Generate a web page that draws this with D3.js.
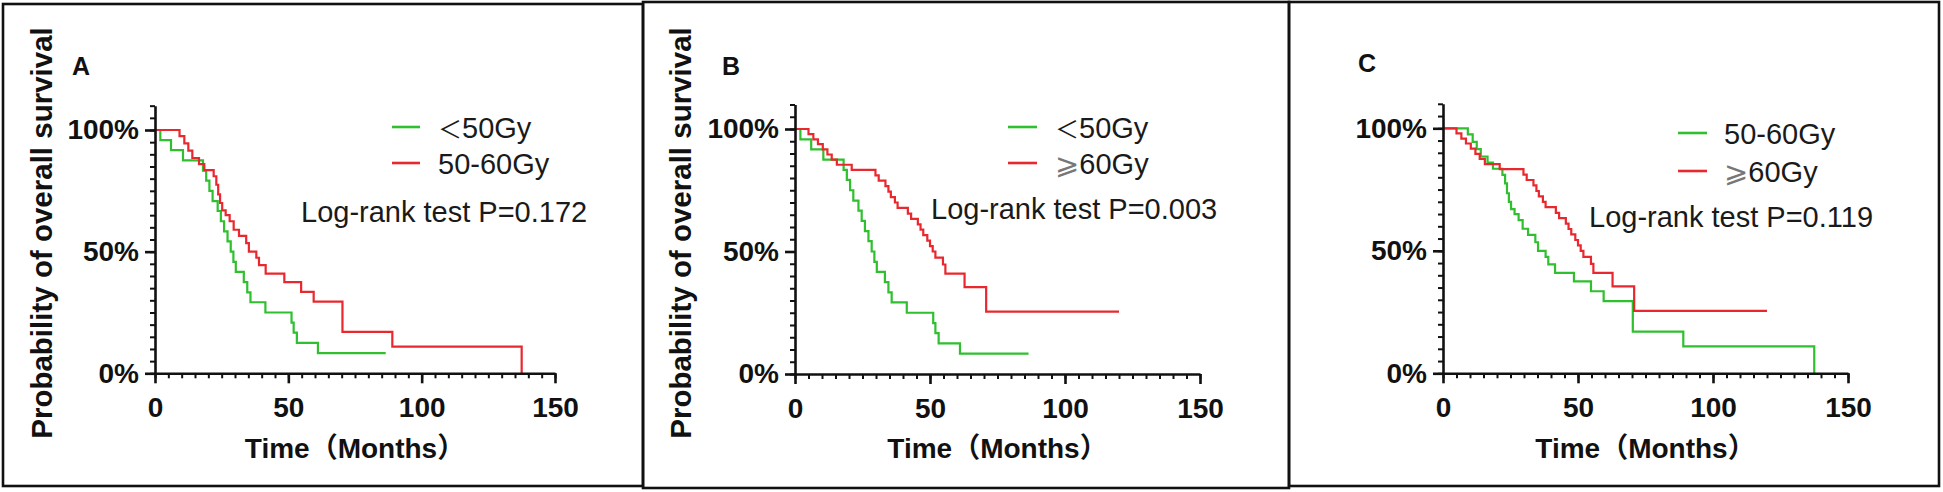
<!DOCTYPE html>
<html><head><meta charset="utf-8">
<script src="https://cdn.jsdelivr.net/npm/d3@7/dist/d3.min.js"></script>
<style>body{margin:0;background:#fff}svg{display:block}</style>
</head><body>
<script>
// ---- data (Kaplan-Meier step points: [months, survival %]) ----
const timeTicks = [0, 50, 100, 150];
const survTicks = [0, 50, 100];
const survTickLabels = ["0%", "50%", "100%"];

const lt50Gy = [[0,100],[2,95.8],[6,91.7],[10.5,87.5],[18,83.3],[19.2,79.2],[20.4,75],[21.6,70.8],
  [23.5,66.7],[24.7,62.5],[25.9,58.3],[27.2,54.2],[28.4,50],[29.4,45.8],[30.3,41.7],[33.3,37.5],
  [34.6,33.3],[35.8,29.2],[41.4,25],[51.2,20.8],[52,16.7],[53.2,12.5],[61.1,8.3],[86.5,8.3]];

const gy50to60 = [[0,100],[9.2,97.5],[11,94.5],[12.5,91.5],[14,88.5],[16.5,86],[18.5,83.5],[22,81],
  [23,77.5],[23.7,73.5],[24.4,70],[25.2,67],[26.5,65],[28,62.5],[29.5,59],[31.5,56.5],[34.2,53.5],
  [35.2,50],[38,47.5],[39,44.5],[41.5,41],[48.5,37.5],[54.8,33.5],[59.5,29.5],[70.3,17],[89,11],[137.5,0]];

const ge60Gy = [[0,100],[5,97.9],[6.8,95.8],[8.5,93.8],[10.3,91.7],[12,89.6],[13.6,87.5],[15.5,85.4],
  [21,83.3],[29.8,81.1],[31,78.9],[33.5,76.7],[34.6,74.4],[35.5,72.2],[37,70],[38,67.8],[41.8,65.5],
  [43,63.3],[45.5,61.1],[46.5,58.9],[47.5,56.7],[49,54.4],[50,52.2],[51,50],[52,47.5],[54.8,44.7],
  [55.7,41],[62.8,35.5],[70.8,25.5],[120,25.5]];

const panelLetters = ["A", "B", "C"];
const pValues = ["0.172", "0.003", "0.119"];
const legendLabels = [["＜50Gy", "50-60Gy"], ["＜50Gy", "⩾60Gy"], ["50-60Gy", "⩾60Gy"]];
const panelCurves = [[lt50Gy, gy50to60], [lt50Gy, ge60Gy], [gy50to60, ge60Gy]];
const yTitle = "Probability of overall survival";
const xTitle = "Time（Months）";

// ---- layout ----
const W = 1943, H = 492;
const GREEN = "#2FBF2F", RED = "#E8282E";
const layout = [
  {box:[3,4,643,486], x:[155,555], y0:373.3, y100:130, letter:[72,75], yTitleX:52,
   leg:[392,420,438,127,163], p:[301,222]},
  {box:[643,2,1289,488], x:[795,1200], y0:374, y100:129, letter:[722,75], yTitleX:691,
   leg:[1008,1037,1055,127,163], p:[931,219]},
  {box:[1289,2,1939,486], x:[1443,1848], y0:373.3, y100:128.3, letter:[1358,72], yTitleX:null,
   leg:[1678,1707,1724,133,171], p:[1589,227]}
];
const FONT = "'Liberation Sans', Arial, 'Noto Sans CJK SC', sans-serif";

const svg = d3.select("body").append("svg").attr("width", W).attr("height", H)
  .style("font-family", FONT);

layout.forEach((L, i) => {
  const g = svg.append("g");
  // frame
  g.append("rect").attr("x", L.box[0]).attr("y", L.box[1])
    .attr("width", L.box[2]-L.box[0]).attr("height", L.box[3]-L.box[1])
    .attr("fill", "none").attr("stroke", "#111").attr("stroke-width", 2.6);

  const x = d3.scaleLinear().domain([0,150]).range(L.x);
  const perPct = (L.y0 - L.y100) / 100;
  const y = d3.scaleLinear().domain([0,110]).range([L.y0, L.y0 - 110*perPct]);

  // curves
  const line = d3.line().x(d => x(d[0])).y(d => y(d[1])).curve(d3.curveStepAfter);
  [GREEN, RED].forEach((c, k) => {
    g.append("path").attr("d", line(panelCurves[i][k])).attr("fill","none")
      .attr("stroke", c).attr("stroke-width", 2.2);
  });

  // x axis minor
  const gxMinor = g.append("g").attr("transform", `translate(0,${L.y0})`)
    .call(d3.axisBottom(x).tickValues(d3.range(0,151,5)).tickSize(5).tickFormat("").tickSizeOuter(0));
  gxMinor.select(".domain").attr("stroke-width", 2.6).attr("stroke","#111");
  gxMinor.selectAll(".tick line").attr("stroke-width", 2).attr("stroke","#111");
  const gxMajor = g.append("g").attr("transform", `translate(0,${L.y0})`)
    .call(d3.axisBottom(x).tickValues(timeTicks).tickSize(10).tickPadding(14).tickSizeOuter(0));
  gxMajor.select(".domain").remove();
  gxMajor.selectAll(".tick line").attr("stroke-width", 2.6).attr("stroke","#111");
  gxMajor.selectAll("text").attr("font-size", 28).attr("font-weight","bold")
    .attr("font-family", FONT).attr("fill","#111");

  // y axis minor
  const gyMinor = g.append("g").attr("transform", `translate(${L.x[0]},0)`)
    .call(d3.axisLeft(y).tickValues(d3.range(0,111,5)).tickSize(5).tickFormat("").tickSizeOuter(0));
  gyMinor.select(".domain").attr("stroke-width", 2.6).attr("stroke","#111");
  gyMinor.selectAll(".tick line").attr("stroke-width", 2).attr("stroke","#111");
  const gyMajor = g.append("g").attr("transform", `translate(${L.x[0]},0)`)
    .call(d3.axisLeft(y).tickValues(survTicks).tickSize(10).tickPadding(6)
      .tickFormat((d, j) => survTickLabels[j]).tickSizeOuter(0));
  gyMajor.select(".domain").remove();
  gyMajor.selectAll(".tick line").attr("stroke-width", 2.6).attr("stroke","#111");
  gyMajor.selectAll("text").attr("font-size", 28).attr("font-weight","bold")
    .attr("font-family", FONT).attr("fill","#111");

  // axis titles
  g.append("text").attr("x", (L.x[0]+L.x[1])/2).attr("y", 458).attr("text-anchor","middle")
    .attr("font-size", 28).attr("font-weight","bold").attr("fill","#111").text(xTitle);
  if (L.yTitleX !== null) {
    g.append("text").attr("transform", `translate(${L.yTitleX},233) rotate(-90)`)
      .attr("text-anchor","middle").attr("font-size", 29.5).attr("font-weight","bold")
      .attr("fill","#111").text(yTitle);
  }
  // panel letter
  g.append("text").attr("x", L.letter[0]).attr("y", L.letter[1]).attr("font-size", 25)
    .attr("font-weight","bold").attr("fill","#111").text(panelLetters[i]);

  // legend
  [GREEN, RED].forEach((c, k) => {
    const ly = L.leg[3 + k];
    g.append("line").attr("x1", L.leg[0]).attr("x2", L.leg[1]).attr("y1", ly).attr("y2", ly)
      .attr("stroke", c).attr("stroke-width", 2.6);
    const lab = legendLabels[i][k];
    const t = g.append("text").attr("x", L.leg[2]).attr("y", ly + 10.5)
      .attr("font-size", 29).attr("fill","#1a1a1a");
    const first = lab[0];
    if (first === "＜" || first === "⩾") {
      t.append("tspan").text(first)
        .attr("font-family", first === "⩾" ? "'DejaVu Sans', sans-serif" : "'Noto Sans CJK SC', sans-serif")
        .attr("font-size", first === "⩾" ? 29 : 24)
        .attr("fill", first === "⩾" ? "#777" : "#1a1a1a");
      t.append("tspan").text(lab.slice(1));
    } else {
      t.text(lab);
    }
  });
  g.append("text").attr("x", L.p[0]).attr("y", L.p[1]).attr("font-size", 29)
    .attr("fill","#1a1a1a").text("Log-rank test P=" + pValues[i]);
});
</script>
</body></html>
